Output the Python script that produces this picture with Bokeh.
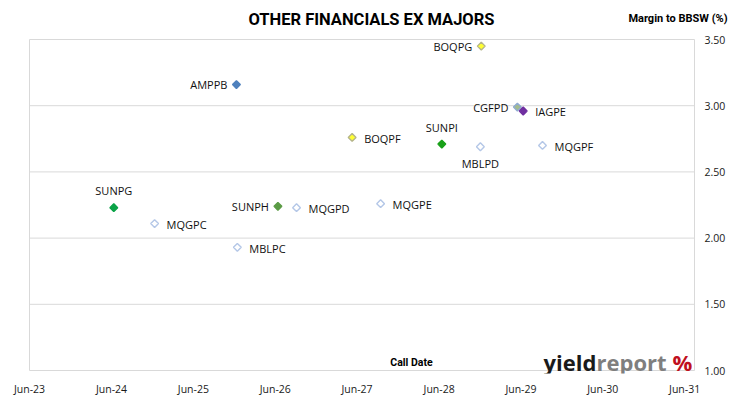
import pandas as pd
from bokeh.plotting import figure
from bokeh.models import ColumnDataSource, Label, FixedTicker, DatetimeTickFormatter, NumeralTickFormatter
from bokeh.core.properties import value
from bokeh.embed import file_html
from bokeh.resources import INLINE

# ---- data ----
names = ["SUNPG", "MQGPC", "AMPPB", "MBLPC", "SUNPH", "MQGPD", "BOQPF",
         "MQGPE", "SUNPI", "MBLPD", "BOQPG", "CGFPD", "IAGPE", "MQGPF"]
call_dates = ["2024-06-11", "2024-12-10", "2025-12-10", "2025-12-14", "2026-06-13",
              "2026-09-04", "2027-05-10", "2027-09-14", "2028-06-13", "2028-12-02",
              "2028-12-06", "2029-05-16", "2029-06-11", "2029-09-05"]
margins = [2.23, 2.11, 3.16, 1.93, 2.24, 2.23, 2.76, 2.26, 2.71, 2.69, 3.45, 2.99, 2.96, 2.70]
label_side = ["above", "right", "left", "right", "left", "right", "right",
              "right", "above", "below", "left", "left", "right", "right"]
fill_colors = ["#0aa347", "#ffffff", "#4f81bd", "#ffffff", "#5b9b45", "#ffffff", "#ffff33",
               "#ffffff", "#19a019", "#ffffff", "#ffff33", "#a3bb8e", "#7030a0", "#ffffff"]
line_colors = ["#0aa347", "#b4c7e7", "#4f81bd", "#b4c7e7", "#5b9b45", "#b4c7e7", "#b5b58a",
               "#b4c7e7", "#19a019", "#b4c7e7", "#b5b58a", "#8faad0", "#7030a0", "#b4c7e7"]
tick_dates = ["2023-06-01", "2024-06-01", "2025-06-01", "2026-06-01", "2027-06-01",
              "2028-06-01", "2029-06-01", "2030-06-01", "2031-06-01"]
y_ticks = [1.0, 1.5, 2.0, 2.5, 3.0, 3.5]

# ---- layout geometry ----
W, H = 730, 399
PL, PR, PT, PB = 29, 694, 39, 370      # visible plot box
FL, FR, FT, FB = 0, 730, 0, 373        # bokeh frame
x_start = pd.Timestamp("2023-06-01")
x_end = pd.Timestamp("2031-07-15")
y_lo, y_hi = 1.0, 3.5


def ms(ts):
    return pd.Timestamp(ts).value / 1e6


def px_x(px):
    return ms(x_start) + (px - PL) / (PR - PL) * (ms(x_end) - ms(x_start))


def px_y(py):
    return y_lo + (PB - py) / (PB - PT) * (y_hi - y_lo)


offsets = {"above": (0, -17, "center"), "below": (0, 17, "center"),
           "left": (-9, 0, "right"), "right": (12, 1, "left")}
xo = [offsets[s][0] for s in label_side]
yo = [offsets[s][1] for s in label_side]
al = [offsets[s][2] for s in label_side]

src = ColumnDataSource(dict(
    x=pd.to_datetime(call_dates), y=margins, name=names,
    fill=fill_colors, line=line_colors, xo=xo, yo=yo, al=al))

p = figure(width=W, height=H, output_backend="svg", toolbar_location=None,
           x_axis_type="datetime", y_axis_location="right",
           x_range=(px_x(FL), px_x(FR)), y_range=(px_y(FB), px_y(FT)),
           min_border_left=FL, min_border_right=0,
           min_border_top=FT, min_border_bottom=H - FB)
p.background_fill_color = "white"
p.border_fill_color = "white"
p.outline_line_color = None
p.xgrid.visible = False
p.ygrid.visible = False

# plot-box grid lines and border
grid_col = "#d9d9d9"
p.segment(x0=[ms(x_start)] * len(y_ticks), y0=y_ticks, x1=[ms(x_end)] * len(y_ticks), y1=y_ticks,
          line_color=grid_col, line_width=1)
p.segment(x0=[ms(x_start), ms(x_end)], y0=[y_lo, y_lo], x1=[ms(x_start), ms(x_end)], y1=[y_hi, y_hi],
          line_color=grid_col, line_width=1)

xa = p.xaxis[0]
xa.ticker = FixedTicker(ticks=[ms(d) for d in tick_dates])
xa.formatter = DatetimeTickFormatter(years="%b-%y", months="%b-%y", days="%b-%y")
xa.axis_line_color = None
xa.major_tick_line_color = None
xa.minor_tick_line_color = None
xa.major_label_text_font = "Open Sans"
xa.major_label_text_font_size = "10.5px"
xa.major_label_text_color = "#1a1a1a"
xa.major_label_standoff = 2

ya = p.yaxis[0]
ya.ticker = FixedTicker(ticks=y_ticks)
ya.formatter = NumeralTickFormatter(format="0.00")
ya.axis_line_color = None
ya.major_tick_line_color = None
ya.major_tick_out = 0
ya.major_tick_in = 0
ya.minor_tick_line_color = None
ya.minor_tick_out = 0
ya.major_label_text_font = "Open Sans"
ya.major_label_text_font_size = "10.5px"
ya.major_label_text_color = "#1a1a1a"
ya.major_label_standoff = -26

p.scatter("x", "y", source=src, marker="square", angle=0.785398, size=5.5,
          fill_color="fill", line_color="line", line_width=1.4)
p.text("x", "y", text="name", source=src, x_offset="xo", y_offset="yo",
       text_align="al", text_baseline="middle", text_font=value("Open Sans"),
       text_font_size="11px", text_color="#111111")

# titles
p.add_layout(Label(x=px_x(371), y=px_y(19), text="OTHER FINANCIALS EX MAJORS",
                   text_align="center", text_baseline="middle", text_font="Roboto",
                   text_font_style="bold", text_font_size="16.5px", text_color="#000000"))
p.add_layout(Label(x=px_x(727), y=px_y(18), text="Margin to BBSW (%)",
                   text_align="right", text_baseline="middle", text_font="Roboto",
                   text_font_style="bold", text_font_size="11px", text_color="#000000"))
p.add_layout(Label(x=px_x(411), y=px_y(362), text="Call Date",
                   text_align="center", text_baseline="middle", text_font="Roboto",
                   text_font_style="bold", text_font_size="10.5px", text_color="#000000"))

# logo
p.add_layout(Label(x=px_x(543), y=px_y(361), text="yield", text_align="left",
                   text_baseline="alphabetic", text_font="Open Sans", text_font_style="bold",
                   text_font_size="22px", text_color="#1a1a1a"))
p.add_layout(Label(x=px_x(596), y=px_y(361), text="report", text_align="left",
                   text_baseline="alphabetic", text_font="Open Sans", text_font_style="bold",
                   text_font_size="22px", text_color="#7f7f7f"))
p.add_layout(Label(x=px_x(672), y=px_y(361), text="%", text_align="left",
                   text_baseline="alphabetic", text_font="Open Sans", text_font_style="bold",
                   text_font_size="22px", text_color="#c0101e"))

open("out.html", "w").write(file_html(p, INLINE))
